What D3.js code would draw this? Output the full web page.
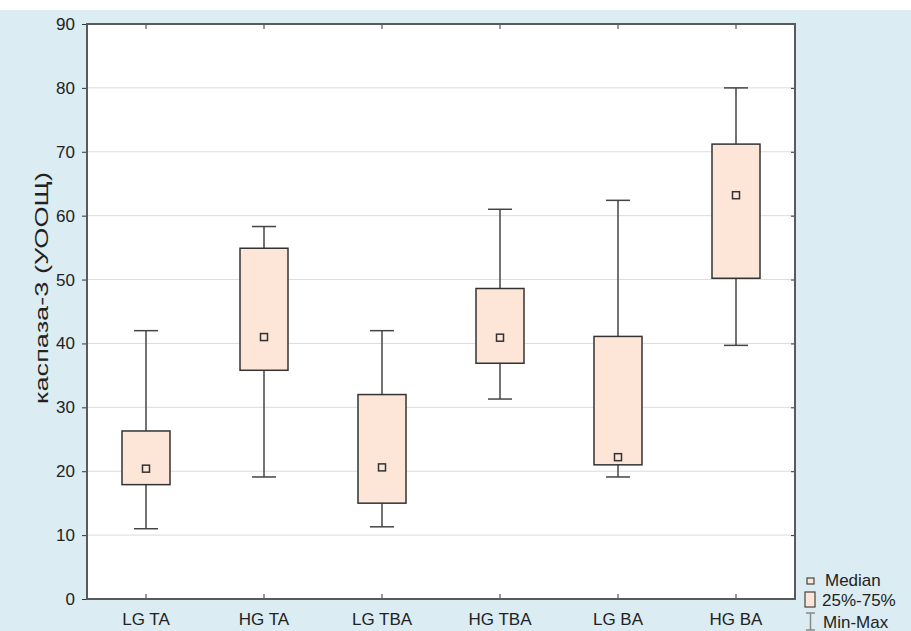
<!DOCTYPE html>
<html>
<head>
  <meta charset="utf-8">
  <script src="https://d3js.org/d3.v7.min.js"></script>
  <style>
    body { margin: 0; background: #fff; }
    svg text { font-family: "Liberation Sans", Arial, sans-serif; fill: #222; }
  </style>
</head>
<body>
<svg width="911" height="631"></svg>
<script>
// box plot data
var categories = ["LG TA", "HG TA", "LG TBA", "HG TBA", "LG BA", "HG BA"];
var minVals    = [11,   19.1, 11.3, 31.3, 19.1, 39.7];
var q1Vals     = [17.9, 35.8, 15,   36.9, 21,   50.2];
var medianVals = [20.4, 41,   20.6, 40.9, 22.2, 63.2];
var q3Vals     = [26.3, 54.9, 32,   48.6, 41.1, 71.2];
var maxVals    = [42,   58.3, 42,   61,   62.4, 80];
var yTicks     = [0, 10, 20, 30, 40, 50, 60, 70, 80, 90];

var svg = d3.select("svg"),
    margin = {top: 24, right: 116, bottom: 32, left: 87},
    width = 911 - margin.left - margin.right,
    height = 631 - margin.top - margin.bottom;

// light blue page background, white strip at the top
svg.append("rect").attr("x", 0).attr("y", 10).attr("width", 911).attr("height", 621)
  .attr("fill", "#dbecf2");

var g = svg.append("g").attr("transform", "translate(" + margin.left + "," + margin.top + ")");

var x = d3.scaleBand().domain(categories).range([0, width]);
var y = d3.scaleLinear().domain([0, 90]).range([height, 0]);

var data = categories.map(function(c, i) {
  return {cat: c, min: minVals[i], q1: q1Vals[i], med: medianVals[i], q3: q3Vals[i], max: maxVals[i]};
});

// plot area
g.append("rect").attr("width", width).attr("height", height).attr("fill", "#fff");

// grid
g.selectAll(".grid").data(yTicks.slice(1, -1)).enter().append("line")
  .attr("x1", 0).attr("x2", width)
  .attr("y1", function(d) { return y(d); }).attr("y2", function(d) { return y(d); })
  .attr("stroke", "#dcdcdc").attr("stroke-width", 1);

// axes
var leftAxis = g.append("g").call(d3.axisLeft(y).tickValues(yTicks).tickSize(5).tickPadding(7));
var rightAxis = g.append("g").attr("transform", "translate(" + width + ",0)")
  .call(d3.axisRight(y).tickValues(yTicks).tickSize(-4).tickFormat(""));
var bottomAxis = g.append("g").attr("transform", "translate(0," + height + ")")
  .call(d3.axisBottom(x).tickSize(-5).tickPadding(14));
var topAxis = g.append("g").call(d3.axisTop(x).tickSize(-5).tickFormat(""));

[leftAxis, rightAxis, bottomAxis, topAxis].forEach(function(a) {
  a.attr("font-size", null).attr("font-family", null);
  a.select(".domain").remove();
  a.selectAll("line").attr("stroke", "#333");
  a.selectAll("text").style("font-size", "17px").attr("fill", "#222");
});

// frame
g.append("rect").attr("width", width).attr("height", height)
  .attr("fill", "none").attr("stroke", "#5a5a5a").attr("stroke-width", 2);

var boxW = 48, capW = 24;
var boxes = g.selectAll(".box").data(data).enter().append("g")
  .attr("transform", function(d) { return "translate(" + (x(d.cat) + x.bandwidth() / 2) + ",0)"; });

boxes.append("line").attr("x1", 0).attr("x2", 0)
  .attr("y1", function(d) { return y(d.max); }).attr("y2", function(d) { return y(d.min); })
  .attr("stroke", "#444").attr("stroke-width", 1.5);
boxes.append("line").attr("x1", -capW / 2).attr("x2", capW / 2)
  .attr("y1", function(d) { return y(d.max); }).attr("y2", function(d) { return y(d.max); })
  .attr("stroke", "#444").attr("stroke-width", 1.5);
boxes.append("line").attr("x1", -capW / 2).attr("x2", capW / 2)
  .attr("y1", function(d) { return y(d.min); }).attr("y2", function(d) { return y(d.min); })
  .attr("stroke", "#444").attr("stroke-width", 1.5);
boxes.append("rect").attr("x", -boxW / 2).attr("width", boxW)
  .attr("y", function(d) { return y(d.q3); })
  .attr("height", function(d) { return y(d.q1) - y(d.q3); })
  .attr("fill", "#fde6d8").attr("stroke", "#333").attr("stroke-width", 1.5);
boxes.append("rect").attr("x", -3.5).attr("width", 7)
  .attr("y", function(d) { return y(d.med) - 3.5; }).attr("height", 7)
  .attr("fill", "#fde6d8").attr("stroke", "#333").attr("stroke-width", 1.5);

// y label
svg.append("text")
  .attr("transform", "translate(48," + (margin.top + 264) + ") rotate(-90)")
  .attr("text-anchor", "middle").style("font-size", "18px")
  .attr("textLength", 232).attr("lengthAdjust", "spacingAndGlyphs")
  .text("каспаза-3 (УООЩ)");

// legend
var lg = svg.append("g").attr("transform", "translate(805,0)");
lg.append("rect").attr("x", 2).attr("y", 578).attr("width", 7).attr("height", 6)
  .attr("fill", "#fde6d8").attr("stroke", "#444").attr("stroke-width", 1.2);
lg.append("text").attr("x", 20).attr("y", 586).style("font-size", "17px").text("Median");
lg.append("rect").attr("x", 0).attr("y", 592).attr("width", 10).attr("height", 15)
  .attr("fill", "#fde6d8").attr("stroke", "#444").attr("stroke-width", 1.2);
lg.append("text").attr("x", 17).attr("y", 606).style("font-size", "17px").text("25%-75%");
lg.append("path").attr("d", "M1,613H10M5.5,613V630M1,630H10")
  .attr("fill", "none").attr("stroke", "#888").attr("stroke-width", 1.5);
lg.append("text").attr("x", 18).attr("y", 628).style("font-size", "17px").text("Min-Max");
</script>
</body>
</html>
